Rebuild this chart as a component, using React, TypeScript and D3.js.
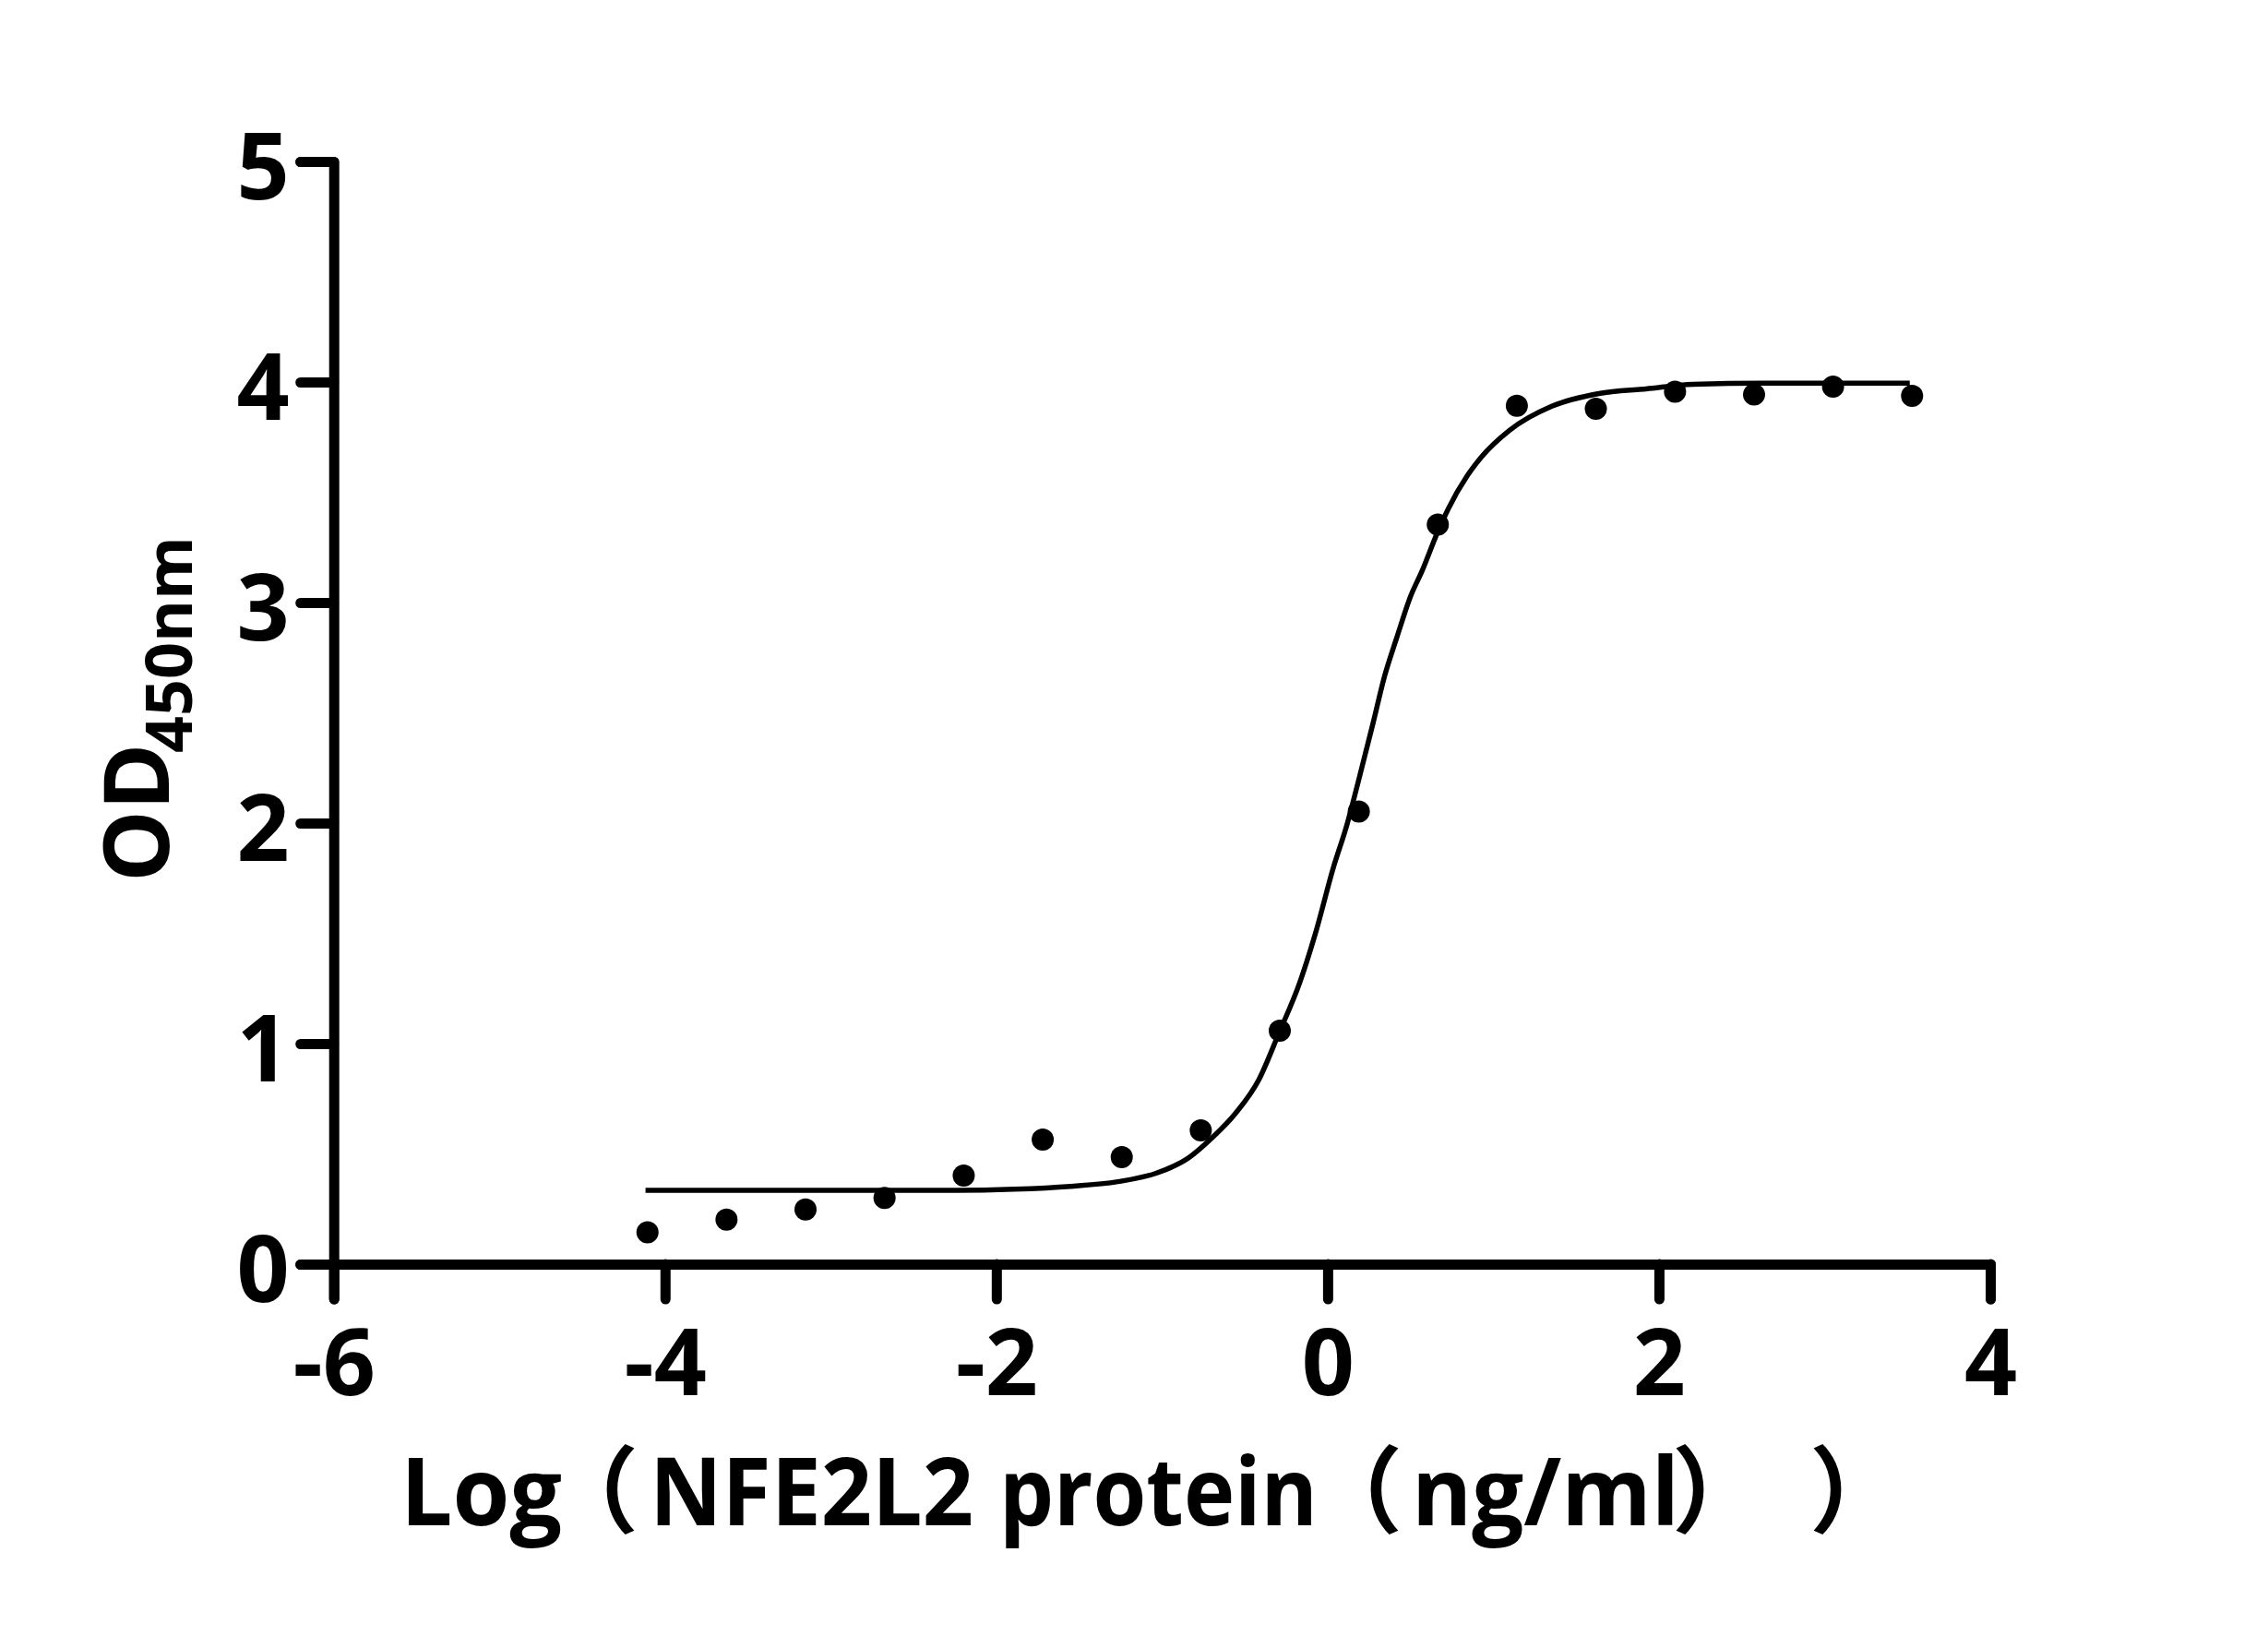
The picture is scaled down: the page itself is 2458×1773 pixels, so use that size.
import React, { useEffect, useRef } from 'react';
import * as d3 from 'd3';

// measured points: log concentration vs OD450
const logConc = [-4.106, -3.629, -3.152, -2.675, -2.197, -1.72, -1.243, -0.766, -0.289, 0.188, 0.665, 1.142, 1.619, 2.097, 2.574, 3.051, 3.528];
const od450 = [0.144, 0.202, 0.248, 0.3, 0.402, 0.565, 0.485, 0.607, 1.059, 2.052, 3.354, 3.892, 3.879, 3.956, 3.943, 3.979, 3.937];

// fitted curve
const fitX = [-4.118, -2.233, -1.892, -1.552, -1.267, -1.04, -0.841, -0.699, -0.557, -0.415, -0.295, -0.167, -0.068, 0.032, 0.117, 0.188, 0.274, 0.344, 0.416, 0.501, 0.572, 0.657, 0.728, 0.842, 0.927, 1.098, 1.353, 1.638, 1.922, 2.206, 2.631, 3.514];
const fitY = [0.335, 0.335, 0.34, 0.353, 0.374, 0.411, 0.481, 0.572, 0.683, 0.837, 1.046, 1.28, 1.515, 1.792, 1.994, 2.197, 2.453, 2.667, 2.838, 3.029, 3.147, 3.307, 3.425, 3.574, 3.659, 3.781, 3.89, 3.948, 3.969, 3.99, 3.995, 3.995];

const xTicks = [-6, -4, -2, 0, 2, 4];
const yTicks = [0, 1, 2, 3, 4, 5];

const W = 2458;
const H = 1773;
const font = '"Open Sans", "Noto Sans CJK SC", sans-serif';

const App: React.FC = () => {
  const ref = useRef<SVGSVGElement>(null);

  useEffect(() => {
    const svg = d3.select(ref.current);
    svg.selectAll('*').remove();

    const x = d3.scaleLinear().domain([-6, 4]).range([361.7, 2157]);
    const y = d3.scaleLinear().domain([0, 5]).range([1370, 175]);

    // fitted line
    const line = d3.line<number>()
      .x((_, i) => x(fitX[i]))
      .y((_, i) => y(fitY[i]))
      .curve(d3.curveMonotoneX);
    svg.append('path')
      .attr('d', line(fitX))
      .attr('fill', 'none')
      .attr('stroke', '#000')
      .attr('stroke-width', 5.5)
      .attr('stroke-linejoin', 'round');

    // points
    svg.append('g')
      .selectAll('circle')
      .data(logConc)
      .enter().append('circle')
      .attr('cx', (d) => x(d))
      .attr('cy', (_, i) => y(od450[i]))
      .attr('r', 12)
      .attr('fill', '#000');

    // axes
    const xAxis = svg.append('g')
      .attr('transform', `translate(0,${y(0)})`)
      .call(d3.axisBottom(x).tickValues(xTicks).tickSize(38).tickPadding(33).tickFormat((d) => String(d)));
    const yAxis = svg.append('g')
      .attr('transform', `translate(${x(-6)},0)`)
      .call(d3.axisLeft(y).tickValues(yTicks).tickSize(36).tickPadding(12).tickFormat((d) => String(d)));

    [xAxis, yAxis].forEach((a) => {
      a.selectAll('path, line')
        .attr('stroke', '#000')
        .attr('stroke-width', 11)
        .attr('stroke-linecap', 'round')
        .attr('stroke-linejoin', 'round');
      a.selectAll('text')
        .attr('fill', '#000')
        .style('font-family', font)
        .style('font-weight', 700)
        .style('font-size', '100px');
    });
    yAxis.selectAll('text').attr('dy', '0.40em');

    // x title, placed piece by piece
    const pieces: [string, number, number | null][] = [
      ['Log', 434, 175], ['（', 590, null], ['NFE2L2', 704, 351], ['protein', 1083, 345],
      ['（', 1418, null], ['ng/ml', 1530, 290], ['）', 1812, null], ['）', 1961, null],
    ];
    pieces.forEach(([t, px, len]) => {
      const el = svg.append('text')
        .attr('x', px)
        .attr('y', 1653)
        .style('font-family', font)
        .style('font-weight', 700)
        .style('font-size', '102px')
        .attr('fill', '#000')
        .text(t);
      if (len) el.attr('textLength', len).attr('lengthAdjust', 'spacingAndGlyphs');
    });

    // y title
    const yt = svg.append('g').attr('transform', 'translate(183,952) rotate(-90)');
    yt.append('text')
      .attr('x', -4)
      .style('font-family', font)
      .style('font-weight', 700)
      .style('font-size', '98px')
      .attr('fill', '#000')
      .text('OD');
    yt.append('text')
      .attr('x', 136)
      .attr('y', 25)
      .style('font-family', font)
      .style('font-weight', 700)
      .style('font-size', '70px')
      .attr('fill', '#000')
      .text('450nm');
  }, []);

  return (
    <svg ref={ref} width={W} height={H} style={{ position: 'absolute', left: 0, top: 0, background: '#fff' }} />
  );
};

export default App;
